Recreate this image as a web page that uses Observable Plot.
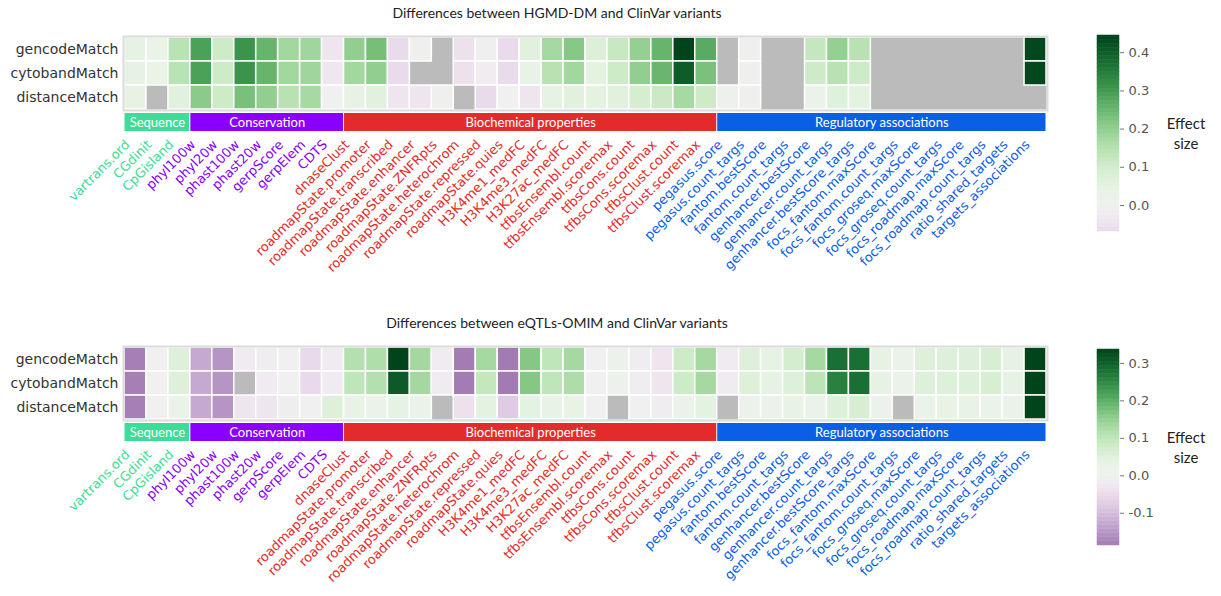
<!DOCTYPE html>
<html>
<head>
<meta charset="utf-8">
<script src="https://cdn.jsdelivr.net/npm/d3@7"></script>
<script src="https://cdn.jsdelivr.net/npm/@observablehq/plot@0.6"></script>
<style>
  body { margin: 0; background: #fff; }
  #fig { position: relative; width: 1221px; height: 596px; overflow: hidden; background: #fff; }
  .title { position: absolute; font-family: Lato, sans-serif; font-size: 14px; color: #222;
           transform: translateX(-50%); white-space: nowrap; line-height: 18px; }
  .cbar-label { position: absolute; font-family: Lato, sans-serif; font-size: 15px; color: #222;
                text-align: center; line-height: 20px; transform: translateX(-50%); white-space: nowrap; }
</style>
</head>
<body>
<div id="fig"></div>
<script>
// Annotation features (columns), in display order
const features = [
  "vartrans.ord", "CGdinit", "CpGisland",
  "phyl100w", "phyl20w", "phast100w", "phast20w", "gerpScore", "gerpElem", "CDTS",
  "dnaseClust", "roadmapState.promoter", "roadmapState.transcribed", "roadmapState.enhancer",
  "roadmapState.ZNFRpts", "roadmapState.heterochrom", "roadmapState.repressed", "roadmapState.quies",
  "H3K4me1_medFC", "H3K4me3_medFC", "H3K27ac_medFC", "tfbsEnsembl.count", "tfbsEnsembl.scoremax",
  "tfbsCons.count", "tfbsCons.scoremax", "tfbsClust.count", "tfbsClust.scoremax",
  "pegasus.score", "pegasus.count_targs", "fantom.bestScore", "fantom.count_targs",
  "genhancer.bestScore", "genhancer.count_targs", "genhancer.bestScore_targs",
  "focs_fantom.maxScore", "focs_fantom.count_targs", "focs_groseq.maxScore", "focs_groseq.count_targs",
  "focs_roadmap.maxScore", "focs_roadmap.count_targs", "ratio_shared_targets", "targets_associations"
];

// Feature groups (consecutive runs of columns)
const groupNames  = ["Sequence", "Conservation", "Biochemical properties", "Regulatory associations"];
const groupSizes  = [3, 7, 17, 15];
const groupColors = ["#3ddc97", "#8a00ff", "#e42b2b", "#0a5fe6"];

// Matching strategies (rows)
const matchTypes = ["gencodeMatch", "cytobandMatch", "distanceMatch"];

// Effect sizes: HGMD-DM vs ClinVar (null = not available)
const hgmdGencode = [0.045, 0.036, 0.141, 0.288, 0.107, 0.312, 0.253, 0.178, 0.180, -0.043,
  0.200, 0.234, -0.068, 0.002, null, -0.053, -0.004, -0.068, 0.059, 0.173, 0.214, 0.074, 0.119,
  0.196, 0.253, 0.445, 0.271, null, 0.003, null, null, 0.122, 0.196, 0.145,
  null, null, null, null, null, null, null, 0.440];
const hgmdCytoband = [0.045, 0.036, 0.141, 0.288, 0.105, 0.312, 0.253, 0.178, 0.180, -0.038,
  0.178, 0.200, -0.068, null, null, -0.053, -0.020, -0.068, 0.039, 0.145, 0.178, 0.053, 0.107,
  0.200, 0.250, 0.402, 0.228, null, 0.003, null, null, 0.107, 0.145, 0.107,
  null, null, null, null, null, null, null, 0.440];
const hgmdDistance = [0.042, null, 0.062, 0.208, 0.107, 0.231, 0.200, 0.145, 0.170, 0.000,
  0.047, 0.062, -0.043, -0.043, 0.002, null, -0.068, 0.000, -0.043, 0.045, 0.062, 0.053, 0.062,
  0.090, 0.113, 0.170, 0.107, 0.021, 0.002, null, null, 0.027, 0.068, 0.053,
  null, null, null, null, null, null, null, null];

// Effect sizes: eQTLs-OMIM vs ClinVar
const eqtlGencode = [-0.182, 0.000, 0.052, -0.128, -0.155, -0.017, -0.012, 0.000, -0.054, -0.017,
  0.115, 0.120, 0.337, 0.133, -0.017, -0.185, 0.131, -0.186, 0.163, 0.100, 0.131, 0.000, 0.016,
  -0.012, -0.033, 0.080, 0.131, -0.017, 0.052, 0.034, 0.069, 0.131, 0.280, 0.280,
  0.032, 0.022, 0.054, 0.054, 0.054, 0.065, 0.034, 0.337];
const eqtlCytoband = [-0.182, 0.000, 0.052, -0.128, -0.155, null, -0.017, 0.000, -0.054, -0.017,
  0.100, 0.115, 0.309, 0.133, -0.017, -0.185, 0.094, -0.186, 0.163, 0.100, 0.121, 0.000, 0.016,
  -0.012, -0.033, 0.080, 0.131, -0.017, 0.052, 0.034, 0.054, 0.104, 0.259, 0.280,
  0.032, 0.022, 0.054, 0.054, 0.054, 0.065, 0.034, 0.337];
const eqtlDistance = [-0.182, 0.000, 0.020, -0.128, -0.155, -0.033, -0.029, -0.012, 0.000, 0.052,
  0.029, 0.020, 0.034, 0.020, null, -0.040, 0.040, -0.079, 0.040, 0.029, 0.029, 0.000, null,
  0.000, -0.012, 0.020, 0.040, null, 0.016, 0.020, 0.029, 0.020, 0.054, 0.065,
  0.016, null, 0.020, 0.029, 0.029, 0.027, 0.020, 0.337];

// Colorbar tick values
const hgmdTicks = [0.0, 0.1, 0.2, 0.3, 0.4];
const eqtlTicks = [-0.1, 0.0, 0.1, 0.2, 0.3];

const panels = [
  { title: "Differences between HGMD-DM and ClinVar variants",
    rows: [hgmdGencode, hgmdCytoband, hgmdDistance], ticks: hgmdTicks, top: 0, cbarTop: 35 },
  { title: "Differences between eQTLs-OMIM and ClinVar variants",
    rows: [eqtlGencode, eqtlCytoband, eqtlDistance], ticks: eqtlTicks, top: 310, cbarTop: 39 }
];

const fig = document.getElementById("fig");
const ROW_PX = 24;
const FONT = "DejaVu Sans";

// column runs for each group
const groups = [];
{
  let start = 0;
  groupNames.forEach((name, i) => {
    groups.push({ name, start, end: start + groupSizes[i], color: groupColors[i] });
    start += groupSizes[i];
  });
}

function place(node, left, top) {
  node.style.position = "absolute";
  node.style.left = left + "px";
  node.style.top = top + "px";
  fig.appendChild(node);
}

function heatmap(rows, vr) {
  const nRows = matchTypes.length;
  const cells = [];
  rows.forEach((row, r) => row.forEach((v, c) => { if (v != null) cells.push({ r, c, v }); }));
  return Plot.plot({
    width: 1221, height: 286,
    marginLeft: 124, marginRight: 175, marginTop: 37, marginBottom: 177,
    style: { fontFamily: FONT, background: "transparent" },
    x: { type: "linear", domain: [0, features.length], axis: null },
    y: { type: "linear", domain: [0, nRows], reverse: true, axis: null },
    color: { type: "linear", scheme: "prgn", domain: [-vr, vr] },
    marks: [
      // missing values show the grey background
      Plot.frame({ fill: "#bbbbbb", stroke: null }),
      Plot.rect(cells, {
        x1: "c", x2: d => d.c + 1, y1: "r", y2: d => d.r + 1,
        fill: "v", stroke: "white", strokeWidth: 1.5
      }),
      Plot.frame({ stroke: "#dcdcdc", strokeWidth: 2, inset: -1 }),
      // row labels
      Plot.text(matchTypes, {
        frameAnchor: "left", y: (d, i) => i + 0.5, textAnchor: "end", dx: -6,
        fontSize: 14, fill: "#333", fontFamily: FONT
      }),
      // group strip
      ...groups.map(g => Plot.rect([g], {
        x1: "start", x2: "end", y1: nRows + 4 / ROW_PX, y2: nRows + 22 / ROW_PX,
        fill: g.color, insetLeft: 0.5, insetRight: 0.5
      })),
      Plot.text(groups, {
        x: d => (d.start + d.end) / 2, y: nRows + 13 / ROW_PX, text: "name",
        fill: "white", fontFamily: "Lato", fontSize: 13
      }),
      // rotated feature labels, coloured by group
      ...groups.map(g => Plot.text(features.slice(g.start, g.end), {
        x: (d, i) => g.start + i + 0.5, frameAnchor: "bottom", dy: 36, dx: -5,
        rotate: -45, textAnchor: "end", fill: g.color, fontSize: 13, fontFamily: FONT
      }))
    ]
  });
}

function colorbar(lo, hi, vr, ticks) {
  const n = 48, step = (hi - lo) / n;
  const bands = d3.range(n).map(i => ({ a: lo + i * step, b: lo + (i + 1) * step }));
  return Plot.plot({
    width: 80, height: 206,
    marginTop: 5, marginBottom: 5, marginLeft: 5, marginRight: 53,
    style: { fontFamily: FONT, fontSize: "13px", background: "transparent" },
    x: { domain: [0, 1], axis: null },
    y: { domain: [lo, hi], axis: null },
    color: { type: "linear", scheme: "prgn", domain: [-vr, vr] },
    marks: [
      Plot.rect(bands, {
        x1: 0, x2: 1, y1: "a", y2: "b",
        fill: d => (d.a + d.b) / 2, stroke: d => (d.a + d.b) / 2, strokeWidth: 0.5
      }),
      Plot.axisY(ticks, {
        anchor: "right", tickSize: 4, tickPadding: 5, label: null,
        tickFormat: d => d.toFixed(1), stroke: "#777", fill: "#555", fontSize: 13
      })
    ]
  });
}

panels.forEach(p => {
  const all = p.rows.flat().filter(v => v != null);
  const [lo, hi] = d3.extent(all);
  const vr = Math.max(-lo, hi);

  const t = document.createElement("div");
  t.className = "title";
  t.textContent = p.title;
  t.style.left = "557px";
  t.style.top = (p.top + 4) + "px";
  fig.appendChild(t);

  place(heatmap(p.rows, vr), 0, p.top);
  place(colorbar(lo, hi, vr, p.ticks), 1092, p.top + p.cbarTop - 5);

  const lab = document.createElement("div");
  lab.className = "cbar-label";
  lab.innerHTML = "Effect<br>size";
  lab.style.left = "1186px";
  lab.style.top = (p.top + (p.top ? 117 : 113)) + "px";
  fig.appendChild(lab);
});
</script>
</body>
</html>
